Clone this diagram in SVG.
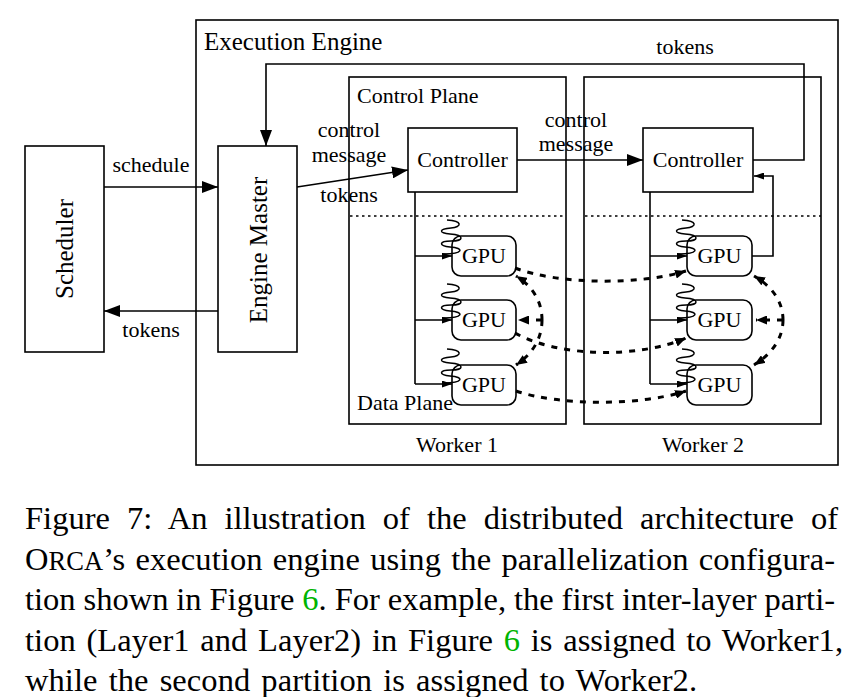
<svg xmlns="http://www.w3.org/2000/svg" xmlns:xlink="http://www.w3.org/1999/xlink" width="859" height="697" viewBox="0 0 859 697">
<style>
text{font-family:"Liberation Serif","Times New Roman",serif;fill:#000}
.l{font-size:22px}
.m{text-anchor:middle}
.box{fill:#fff;stroke:#000;stroke-width:1.6}
.frame{fill:none;stroke:#000;stroke-width:1.6}
.ln{fill:none;stroke:#000;stroke-width:1.6}
.dot{fill:none;stroke:#000;stroke-width:1.6;stroke-dasharray:2.5 3.5}
.dash{fill:none;stroke:#000;stroke-width:3;stroke-dasharray:6 7}
.spr{fill:none;stroke:#000;stroke-width:1.5}
.cap{font-size:32.5px}
</style>
<defs>
<marker id="big" markerUnits="userSpaceOnUse" markerWidth="16" markerHeight="12" refX="16" refY="6" orient="auto"><path d="M0,0 L16,6 L0,12 z" fill="#000"/></marker>
<marker id="sm" markerUnits="userSpaceOnUse" markerWidth="10" markerHeight="7" refX="10" refY="3.5" orient="auto"><path d="M0,0 L10,3.5 L0,7 z" fill="#000"/></marker>
<marker id="dh" markerUnits="userSpaceOnUse" markerWidth="11" markerHeight="9" refX="11" refY="4.5" orient="auto"><path d="M0,0 L11,4.5 L0,9 z" fill="#000"/></marker>
<path id="spring" class="spr" d="M447 220 C463 221,462 227,451 228 C439 229,438 233,450 234 C465 235,464 241,451 241 C439 241,438 246,450 247 C465 248,463 254,444 254"/>
</defs>
<rect width="859" height="697" fill="#fff"/>

<g id="execution-engine">
<rect class="frame" x="196" y="20" width="642" height="445"/>
<text x="204" y="50" style="font-size:25px">Execution Engine</text>
</g>

<g id="worker1">
<rect class="frame" x="349" y="77" width="217" height="347"/>
<line class="dot" x1="350" y1="216" x2="566" y2="216"/>
<text class="l" x="357" y="103">Control Plane</text>
<text class="l" x="357" y="410">Data Plane</text>
<text class="l m" x="457" y="452">Worker 1</text>
</g>
<g id="worker2">
<rect class="frame" x="584" y="77" width="237" height="347"/>
<line class="dot" x1="585" y1="216" x2="821" y2="216"/>
<text class="l m" x="703" y="452">Worker 2</text>
</g>

<g id="scheduler">
<rect class="box" x="25" y="146" width="79" height="206"/>
<text transform="translate(73,249) rotate(-90)" class="m" style="font-size:25px">Scheduler</text>
</g>
<g id="engine-master">
<rect class="box" x="218" y="146" width="79" height="206"/>
<text transform="translate(267,250) rotate(-90)" class="m" style="font-size:25px">Engine Master</text>
</g>

<g id="connectors">
<line class="ln" x1="104" y1="187" x2="218" y2="187" marker-end="url(#big)"/>
<line class="ln" x1="218" y1="311" x2="104" y2="311" marker-end="url(#big)"/>
<line class="ln" x1="297" y1="187" x2="408" y2="170" marker-end="url(#big)"/>
<line class="ln" x1="517" y1="160" x2="643" y2="160" marker-end="url(#big)"/>
<path class="ln" d="M753 160 H804 V64 H266 V146" marker-end="url(#big)"/>
<path class="ln" d="M752 256 H773 V176 H754" marker-end="url(#sm)"/>
<path class="ln" d="M415 192 V384"/>
<line class="ln" x1="415" y1="256" x2="452" y2="256" marker-end="url(#sm)"/>
<line class="ln" x1="415" y1="320" x2="452" y2="320" marker-end="url(#sm)"/>
<line class="ln" x1="415" y1="384" x2="452" y2="384" marker-end="url(#sm)"/>
<path class="ln" d="M650 192 V384"/>
<line class="ln" x1="650" y1="256" x2="687" y2="256" marker-end="url(#sm)"/>
<line class="ln" x1="650" y1="320" x2="687" y2="320" marker-end="url(#sm)"/>
<line class="ln" x1="650" y1="384" x2="687" y2="384" marker-end="url(#sm)"/>
<path class="dash" d="M515 268 C560 285,640 285,686 271" marker-end="url(#dh)"/>
<path class="dash" d="M515 333 C560 358,640 358,686 338" marker-end="url(#dh)"/>
<path class="dash" d="M516 391 C560 406,640 406,686 391" marker-end="url(#dh)"/>
<path class="dash" d="M542 320 C542 300,531 285,516 276" marker-end="url(#dh)"/>
<path class="dash" d="M542 320 H518" marker-end="url(#dh)"/>
<path class="dash" d="M542 320 C542 340,531 355,516 365" marker-end="url(#dh)"/>
<path class="dash" d="M783 320 C783 300,770 285,754 276" marker-end="url(#dh)"/>
<path class="dash" d="M783 320 H756" marker-end="url(#dh)"/>
<path class="dash" d="M783 320 C783 340,770 355,754 365" marker-end="url(#dh)"/>
<text class="l m" x="151" y="172">schedule</text>
<text class="l m" x="151" y="337">tokens</text>
<text class="l m" x="349" y="137">control</text>
<text class="l m" x="349" y="162">message</text>
<text class="l m" x="349" y="202">tokens</text>
<text class="l m" x="576" y="127">control</text>
<text class="l m" x="576" y="151">message</text>
<text class="l m" x="685" y="54">tokens</text>
</g>

<g id="controller1">
<rect class="box" x="408" y="128" width="109" height="64"/>
<text class="l m" x="462.5" y="167">Controller</text>
</g>
<g id="controller2">
<rect class="box" x="643" y="128" width="110" height="64"/>
<text class="l m" x="698" y="167">Controller</text>
</g>

<g id="w1-gpu1"><rect class="frame" x="452" y="236" width="64" height="40" rx="9"/><text class="l m" x="484" y="263">GPU</text><use xlink:href="#spring"/></g>
<g id="w1-gpu2"><rect class="frame" x="452" y="300" width="64" height="40" rx="9"/><text class="l m" x="484" y="327">GPU</text><use xlink:href="#spring" transform="translate(0,64)"/></g>
<g id="w1-gpu3"><rect class="frame" x="452" y="365" width="64" height="40" rx="9"/><text class="l m" x="484" y="392">GPU</text><use xlink:href="#spring" transform="translate(0,129)"/></g>
<g id="w2-gpu1"><rect class="frame" x="687" y="236" width="65" height="40" rx="9"/><text class="l m" x="719.5" y="263">GPU</text><use xlink:href="#spring" transform="translate(235,0)"/></g>
<g id="w2-gpu2"><rect class="frame" x="687" y="300" width="65" height="40" rx="9"/><text class="l m" x="719.5" y="327">GPU</text><use xlink:href="#spring" transform="translate(235,64)"/></g>
<g id="w2-gpu3"><rect class="frame" x="687" y="365" width="65" height="40" rx="9"/><text class="l m" x="719.5" y="392">GPU</text><use xlink:href="#spring" transform="translate(235,129)"/></g>

<g id="caption">
<text class="cap" x="25" y="529" textLength="813" lengthAdjust="spacing" word-spacing="8.9">Figure 7: An illustration of the distributed architecture of</text>
<text class="cap" x="25" y="570" textLength="810" lengthAdjust="spacing" word-spacing="2">O<tspan style="font-size:26.5px">RCA</tspan>’s execution engine using the parallelization configura-</text>
<text class="cap" x="25" y="610" textLength="810" lengthAdjust="spacing" word-spacing="-0.2">tion shown in Figure <tspan style="fill:#00b400">6</tspan>. For example, the first inter-layer parti-</text>
<text class="cap" x="25" y="651" textLength="818" lengthAdjust="spacing" word-spacing="2.5">tion (Layer1 and Layer2) in Figure <tspan style="fill:#00b400">6</tspan> is assigned to Worker1,</text>
<text class="cap" x="25" y="691" textLength="672" lengthAdjust="spacing" word-spacing="2.9">while the second partition is assigned to Worker2.</text>
</g>
</svg>
